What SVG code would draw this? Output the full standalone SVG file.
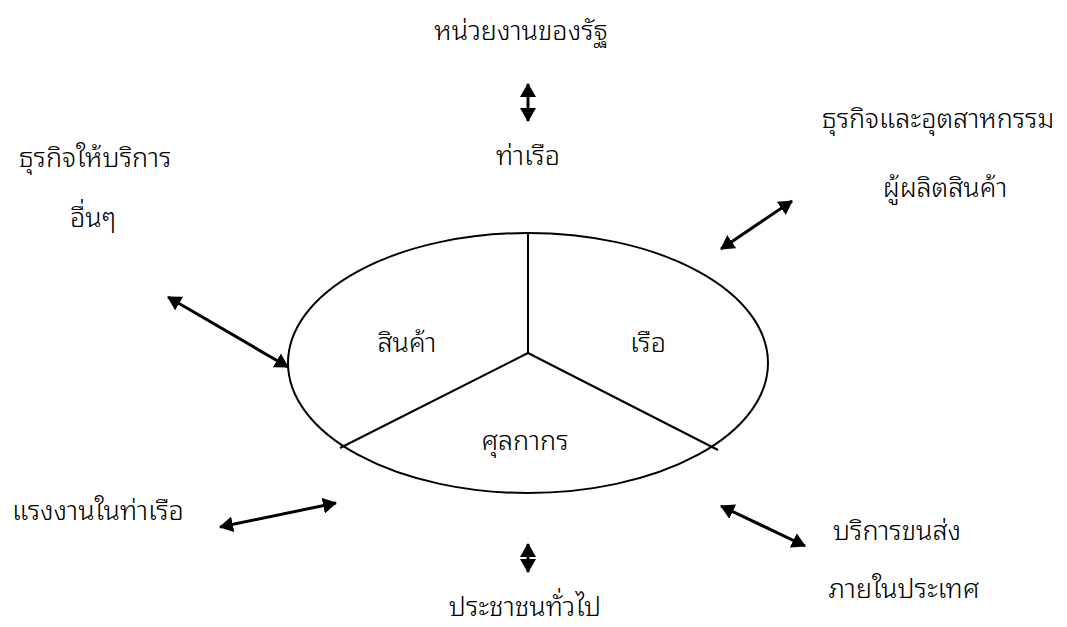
<svg xmlns="http://www.w3.org/2000/svg" width="1067" height="627" viewBox="0 0 1067 627">
<style>
text{font-family:"Noto Sans Thai Looped","Noto Sans Thai","Loma","Garuda","Norasi","DejaVu Sans",sans-serif;font-size:27px;font-weight:300;fill:#000;text-anchor:middle}
.c{stroke:#000;stroke-width:3;fill:none}
.s{stroke:#000;stroke-width:2;fill:none}
</style>
<defs>
<marker id="ah" viewBox="0 0 14 16" refX="13" refY="8" markerWidth="14" markerHeight="16" orient="auto-start-reverse" markerUnits="userSpaceOnUse">
<path d="M0,0 L14,8 L0,16 z" fill="#000"/>
</marker>
</defs>
<rect width="1067" height="627" fill="#fff"/>
<g id="port">
<ellipse cx="528" cy="363" rx="240" ry="130" class="s"/>
<line x1="528" y1="233" x2="528" y2="353" class="s"/>
<line x1="528" y1="353" x2="340" y2="448" class="s"/>
<line x1="528" y1="353" x2="718" y2="450" class="s"/>
<text x="407" y="352">สินค้า</text>
<text x="648" y="352">เรือ</text>
<text x="525" y="450">ศุลกากร</text>
</g>
<g id="label-port"><text x="528" y="165">ท่าเรือ</text></g>
<g id="n-gov"><text x="521" y="40">หน่วยงานของรัฐ</text></g>
<g id="n-service"><text x="95" y="167">ธุรกิจให้บริการ</text><text x="93" y="227">อื่นๆ</text></g>
<g id="n-industry"><text x="938" y="128">ธุรกิจและอุตสาหกรรม</text><text x="945" y="197">ผู้ผลิตสินค้า</text></g>
<g id="n-labour"><text x="98" y="520">แรงงานในท่าเรือ</text></g>
<g id="n-public"><text x="525" y="616">ประชาชนทั่วไป</text></g>
<g id="n-transport"><text x="897" y="540">บริการขนส่ง</text><text x="904" y="598">ภายในประเทศ</text></g>
<g id="connectors">
<line x1="528" y1="84" x2="528" y2="121" class="c" marker-start="url(#ah)" marker-end="url(#ah)"/>
<line x1="721" y1="249" x2="792" y2="201" class="c" marker-start="url(#ah)" marker-end="url(#ah)"/>
<line x1="168" y1="297" x2="288" y2="367" class="c" marker-start="url(#ah)" marker-end="url(#ah)"/>
<line x1="220" y1="527" x2="336" y2="503" class="c" marker-start="url(#ah)" marker-end="url(#ah)"/>
<line x1="721" y1="506" x2="805" y2="546" class="c" marker-start="url(#ah)" marker-end="url(#ah)"/>
<line x1="528" y1="544" x2="528" y2="572" class="c" marker-start="url(#ah)" marker-end="url(#ah)"/>
</g>
</svg>
